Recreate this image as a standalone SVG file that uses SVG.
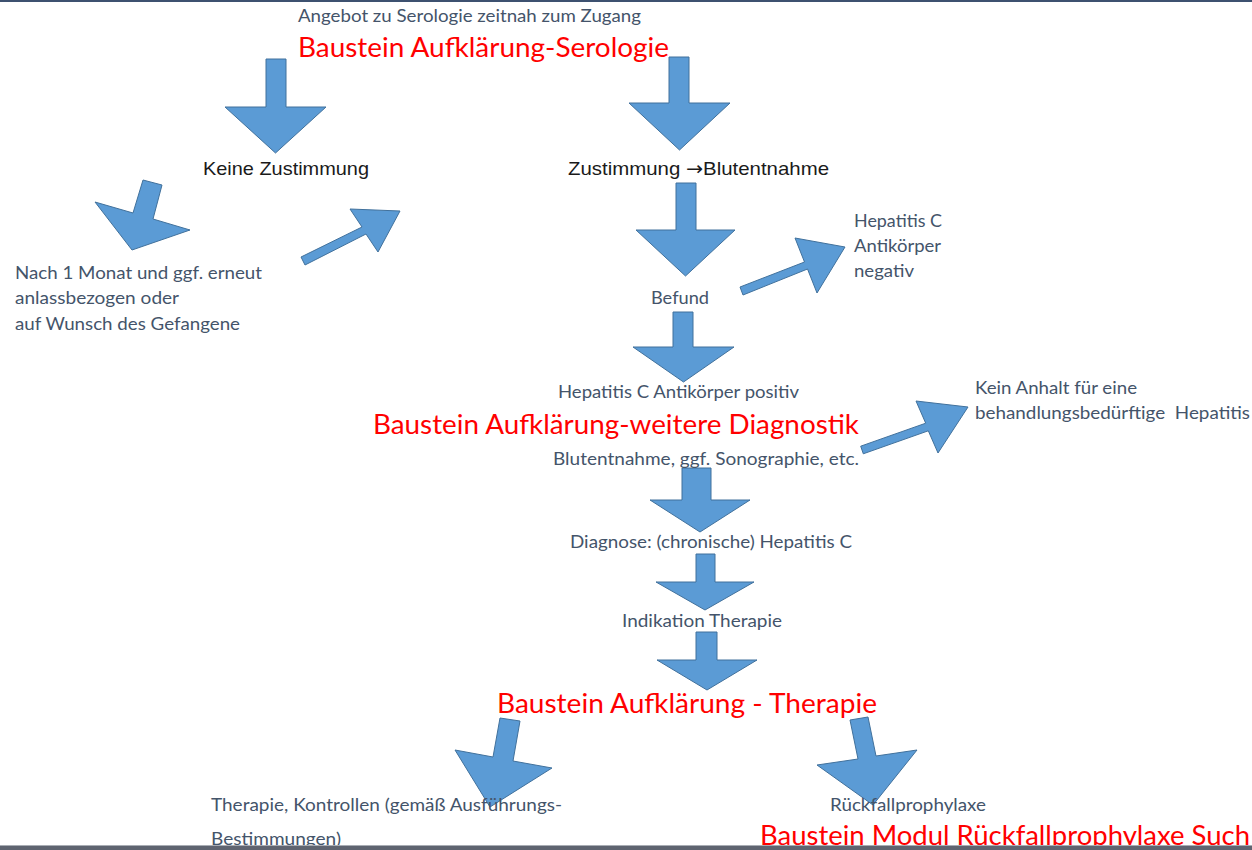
<svg xmlns="http://www.w3.org/2000/svg" width="1252" height="850" viewBox="0 0 1252 850">
<style>
.lbl{font-family:Lato,"Open Sans","Liberation Sans",sans-serif;font-size:17px;fill:#44546A}
.red{font-family:Lato,"Open Sans","Liberation Sans",sans-serif;font-size:27px;fill:#FF0000}
.ar{font-family:"Liberation Sans",Arial,sans-serif;font-size:19px;fill:#1a1a1a}
.arrow{fill:#5B9BD5;stroke:#41719C;stroke-width:1;stroke-linejoin:miter}
</style>
<rect x="0" y="0" width="1252" height="850" fill="#ffffff"/>
<rect x="0" y="0" width="1252" height="2" fill="#3d5170"/>

<g id="connectors">
<polygon class="arrow" points="266,59 286,59 286,107 326,107 275.5,153 225,107 266,107"/>
<polygon class="arrow" points="669,57 689,57 689,103 730,103 679.5,150 629,103 669,103"/>
<polygon class="arrow" points="676,183 696,183 696,230 735,230 685.5,276 636,230 676,230"/>
<polygon class="arrow" points="673,312 693,312 693,347 734,347 683.5,382 633,347 673,347"/>
<polygon class="arrow" points="682,468 711,468 711,500 750,500 700,532 650,500 682,500"/>
<polygon class="arrow" points="696,554 715,554 715,582 754,582 705,610 656,582 696,582"/>
<polygon class="arrow" points="696,632 717,632 717,660 757,660 707,690 657,660 696,660"/>
<polygon class="arrow" points="143,180 162,185 153,219 190,230 132,250 95,202 133,213"/>
<polygon class="arrow" points="301,257 362,227 350,209 400,211 378,252 366,234 305,265"/>
<polygon class="arrow" points="740,287 804.5,262 795,238 845,247 817,293 807.5,269 743,295"/>
<polygon class="arrow" points="860.7,446.2 925.7,423.2 916,401 968,407 938,453 928.3,430.8 863.3,453.8"/>
<polygon class="arrow" points="500,718 520,721 513,761 552,768 490,807 455,750 493,757"/>
<polygon class="arrow" points="850,720 868,717 876,756 917,750 873,805 817,765 858,759"/>
</g>

<g id="n-angebot">
<text class="lbl" x="298" y="22" textLength="343" lengthAdjust="spacingAndGlyphs">Angebot zu Serologie zeitnah zum Zugang</text>
<text class="red" x="298" y="57" textLength="371" lengthAdjust="spacingAndGlyphs">Baustein Aufklärung-Serologie</text>
</g>
<g id="n-keine">
<text class="ar" x="203" y="175" textLength="166" lengthAdjust="spacingAndGlyphs">Keine Zustimmung</text>
</g>
<g id="n-zustimmung">
<text class="ar" x="568" y="175" textLength="261" lengthAdjust="spacingAndGlyphs">Zustimmung <tspan font-family="DejaVu Sans, sans-serif">→</tspan>Blutentnahme</text>
</g>
<g id="n-nach">
<text class="lbl" x="15" y="279" textLength="247" lengthAdjust="spacingAndGlyphs">Nach 1 Monat und ggf. erneut</text>
<text class="lbl" x="15" y="304" textLength="164" lengthAdjust="spacingAndGlyphs">anlassbezogen oder</text>
<text class="lbl" x="15" y="330" textLength="225" lengthAdjust="spacingAndGlyphs">auf Wunsch des Gefangene</text>
</g>
<g id="n-negativ">
<text class="lbl" x="854" y="227" textLength="88" lengthAdjust="spacingAndGlyphs">Hepatitis C</text>
<text class="lbl" x="854" y="252" textLength="87" lengthAdjust="spacingAndGlyphs">Antikörper</text>
<text class="lbl" x="854" y="277" textLength="60" lengthAdjust="spacingAndGlyphs">negativ</text>
</g>
<g id="n-befund">
<text class="lbl" x="651" y="304" textLength="58" lengthAdjust="spacingAndGlyphs">Befund</text>
</g>
<g id="n-positiv">
<text class="lbl" x="558" y="398" textLength="241" lengthAdjust="spacingAndGlyphs">Hepatitis C Antikörper positiv</text>
<text class="red" x="373" y="434" textLength="486" lengthAdjust="spacingAndGlyphs">Baustein Aufklärung-weitere Diagnostik</text>
<text class="lbl" x="553" y="465" textLength="306" lengthAdjust="spacingAndGlyphs">Blutentnahme, ggf. Sonographie, etc.</text>
</g>
<g id="n-keinanhalt">
<text class="lbl" x="975" y="394" textLength="162" lengthAdjust="spacingAndGlyphs">Kein Anhalt für eine</text>
<text class="lbl" x="975" y="419" textLength="275" lengthAdjust="spacingAndGlyphs" xml:space="preserve">behandlungsbedürftige  Hepatitis</text>
</g>
<g id="n-diagnose">
<text class="lbl" x="570" y="548" textLength="282" lengthAdjust="spacingAndGlyphs">Diagnose: (chronische) Hepatitis C</text>
</g>
<g id="n-indikation">
<text class="lbl" x="622" y="627" textLength="160" lengthAdjust="spacingAndGlyphs">Indikation Therapie</text>
</g>
<g id="n-therapie">
<text class="red" x="497" y="713" textLength="380" lengthAdjust="spacingAndGlyphs">Baustein Aufklärung - Therapie</text>
</g>
<g id="n-kontrollen">
<text class="lbl" x="211" y="811" textLength="351" lengthAdjust="spacingAndGlyphs">Therapie, Kontrollen (gemäß Ausführungs-</text>
<text class="lbl" x="211" y="845" textLength="130" lengthAdjust="spacingAndGlyphs">Bestimmungen)</text>
</g>
<g id="n-rueckfall">
<text class="lbl" x="830" y="811" textLength="156" lengthAdjust="spacingAndGlyphs">Rückfallprophylaxe</text>
<text class="red" x="760" y="845" textLength="490" lengthAdjust="spacingAndGlyphs">Baustein Modul Rückfallprophylaxe Such</text>
</g>
<rect x="0" y="845" width="1252" height="1" fill="#a9adb4"/>
<rect x="0" y="846" width="1252" height="4" fill="#5f6470"/>
</svg>
